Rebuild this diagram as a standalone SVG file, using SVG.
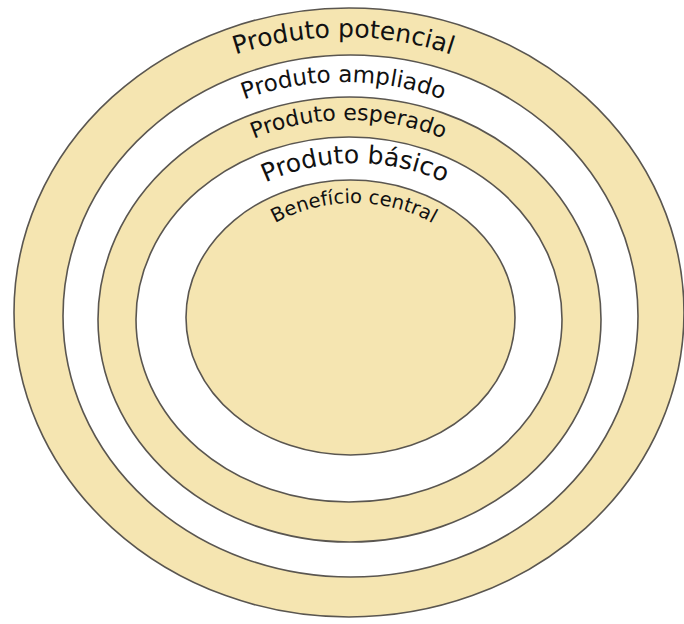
<svg xmlns="http://www.w3.org/2000/svg" width="684" height="624" viewBox="0 0 684 624">
<style>
.ring{stroke:#5a5650;stroke-width:1.6}
.y{fill:#f5e5b1}
.w{fill:#ffffff}
.lbl{font-family:"DejaVu Sans","Liberation Sans",Arial,sans-serif;fill:#111;text-anchor:middle}
</style>
<defs>
<path id="p1" d="M 33.5,316 A 310,279 0 0 1 653.5,316"/>
<path id="p2" d="M 81.5,316 A 262,234 0 0 1 605.5,316"/>
<path id="p3" d="M 126.5,316 A 222,196 0 0 1 570.5,316"/>
<path id="p4" d="M 172,316 A 183,153 0 0 1 538,316"/>
<path id="p5" d="M 216,316 A 138,113 0 0 1 492,316"/>
</defs>
<rect width="684" height="624" fill="#ffffff"/>
<g id="produto-potencial">
<ellipse class="ring y" cx="349" cy="312.5" rx="335" ry="304.5"/>
</g>
<g id="produto-ampliado">
<ellipse class="ring w" cx="350.5" cy="316" rx="287.5" ry="261"/>
</g>
<g id="produto-esperado">
<ellipse class="ring y" cx="349.5" cy="319.5" rx="251.5" ry="222.5"/>
</g>
<g id="produto-basico">
<ellipse class="ring w" cx="349" cy="319.5" rx="213" ry="182.5"/>
</g>
<g id="beneficio-central">
<ellipse class="ring y" cx="350.5" cy="317.5" rx="164.5" ry="137.5"/>
</g>
<g id="labels">
<text class="lbl" font-size="25"><textPath href="#p1" startOffset="50%">Produto potencial</textPath></text>
<text class="lbl" font-size="23"><textPath href="#p2" startOffset="50%">Produto ampliado</textPath></text>
<text class="lbl" font-size="22"><textPath href="#p3" startOffset="50%">Produto esperado</textPath></text>
<text class="lbl" font-size="25"><textPath href="#p4" startOffset="50%">Produto básico</textPath></text>
<text class="lbl" font-size="19.5"><textPath href="#p5" startOffset="50%">Benefício central</textPath></text>
</g>
</svg>
